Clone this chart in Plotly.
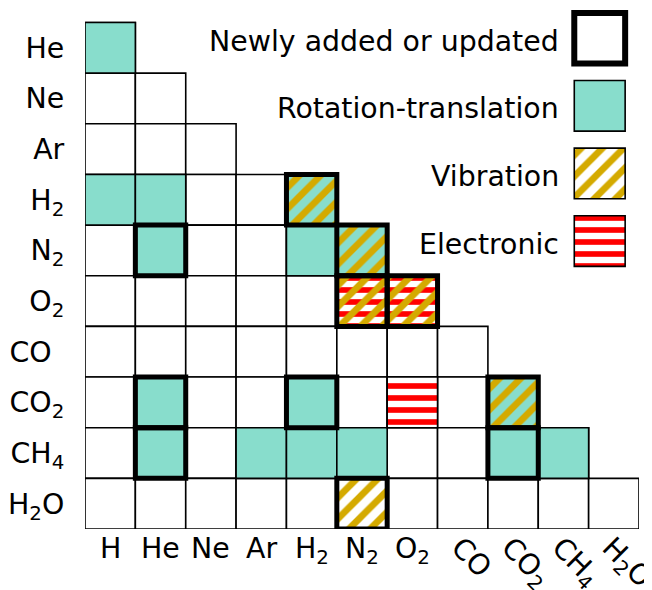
import plotly.graph_objects as go

# ---------------- data ----------------
ROW_SPECIES = ["He", "Ne", "Ar", "H2", "N2", "O2", "CO", "CO2", "CH4", "H2O"]
COL_SPECIES = ["H", "He", "Ne", "Ar", "H2", "N2", "O2", "CO", "CO2", "CH4", "H2O"]
ROW_LENGTHS = [1, 2, 3, 5, 6, 7, 8, 9, 10, 11]   # number of collision partners per row

ROW_TICK_LABELS = ["He", "Ne", "Ar", "H<sub>2</sub>", "N<sub>2</sub>", "O<sub>2</sub>",
                   "CO<sub>\u00a0\u00a0</sub>", "CO<sub>2</sub>", "CH<sub>4</sub>", "H<sub>2</sub>O"]
COL_TICK_LABELS = ["H", "He", "Ne", "Ar", "H<sub>2</sub>", "N<sub>2</sub>", "O<sub>2</sub>",
                   "CO", "CO<sub>2</sub>", "CH<sub>4</sub>", "H<sub>2</sub>O"]
N_FLAT_COL_LABELS = 7   # first labels horizontal, the rest slanted

ROTATION_TRANSLATION = [("He", "H"), ("H2", "H"), ("H2", "He"), ("H2", "H2"),
                        ("N2", "He"), ("N2", "H2"), ("N2", "N2"),
                        ("CO2", "He"), ("CO2", "H2"), ("CO2", "CO2"),
                        ("CH4", "He"), ("CH4", "Ar"), ("CH4", "H2"), ("CH4", "N2"),
                        ("CH4", "CO2"), ("CH4", "CH4")]
VIBRATION = [("H2", "H2"), ("N2", "N2"), ("O2", "N2"), ("O2", "O2"),
             ("CO2", "CO2"), ("H2O", "N2")]
ELECTRONIC = [("O2", "N2"), ("O2", "O2"), ("CO2", "O2")]
NEWLY_ADDED = [("H2", "H2"), ("N2", "He"), ("N2", "N2"), ("O2", "N2"), ("O2", "O2"),
               ("CO2", "He"), ("CO2", "H2"), ("CO2", "CO2"), ("CH4", "He"),
               ("CH4", "CO2"), ("H2O", "N2")]

LEGEND_TEXT = ["Newly added or updated", "Rotation-translation", "Vibration", "Electronic"]

# ---------------- style ----------------
FONT = "DejaVu Sans"
FS = 28.4
TEAL = "#88DDCC"
GOLD = "#D4AA00"
RED = "#FF0000"
THIN = 1.6
THICK = 5
CLEAR = "rgba(0,0,0,0)"

Y_TOP = -0.2865          # headroom above the first row (for the legend)
LEGEND_X = 10.22
LEGEND_Y0 = 0.31
LEGEND_STEP = 1.335
LEGEND_TEXT_X = 9.46

DIAG = dict(shape="/", fgcolor=GOLD, bgcolor=CLEAR, size=15, solidity=0.45, fillmode="replace")
HORIZ = dict(shape="-", fgcolor=RED, bgcolor="white", size=12, solidity=0.47, fillmode="replace")


def cells(pairs):
    xs = [COL_SPECIES.index(c) + 0.5 for r, c in pairs]
    bases = [ROW_SPECIES.index(r) for r, c in pairs]
    return xs, bases


def cell_bar(pairs, **kw):
    xs, bases = cells(pairs)
    n = len(xs)
    return go.Bar(x=xs, y=[1] * n, base=bases, width=[1] * n, orientation="v",
                  showlegend=False, hoverinfo="skip", cliponaxis=False, **kw)


grid_pairs = [(r, COL_SPECIES[j]) for i, r in enumerate(ROW_SPECIES) for j in range(ROW_LENGTHS[i])]

fig = go.Figure()
fig.add_trace(cell_bar(grid_pairs, marker=dict(color="white", line=dict(color="black", width=THIN))))
fig.add_trace(cell_bar(ROTATION_TRANSLATION, marker=dict(color=TEAL, line=dict(color="black", width=THIN))))
fig.add_trace(cell_bar(ELECTRONIC, marker=dict(color="white", pattern=HORIZ, line=dict(color="black", width=THIN))))
fig.add_trace(cell_bar(VIBRATION, marker=dict(color=CLEAR, pattern=DIAG, line=dict(color="black", width=THIN))))
fig.add_trace(cell_bar(NEWLY_ADDED, marker=dict(color=CLEAR, line=dict(color="black", width=THICK))))

# legend swatches
legend_styles = [
    dict(color="white", line=dict(color="black", width=THICK + 1)),
    dict(color=TEAL, line=dict(color="black", width=THIN)),
    dict(color="white", pattern=dict(DIAG, bgcolor="white"), line=dict(color="black", width=THIN)),
    dict(color="white", pattern=HORIZ, line=dict(color="black", width=THIN)),
]
for k, (txt, st) in enumerate(zip(LEGEND_TEXT, legend_styles)):
    yc = LEGEND_Y0 + k * LEGEND_STEP
    fig.add_trace(go.Bar(x=[LEGEND_X], y=[1], base=[yc - 0.5], width=[1.01], marker=st,
                         showlegend=False, hoverinfo="skip", cliponaxis=False))
    fig.add_annotation(x=LEGEND_TEXT_X, y=yc + 0.06, xref="x", yref="y", text=txt,
                       showarrow=False, xanchor="right", yanchor="middle",
                       font=dict(family=FONT, size=FS, color="black"))

# horizontal column labels
for j in range(N_FLAT_COL_LABELS):
    fig.add_annotation(x=j + 0.5, y=0, xref="x", yref="paper", text=COL_TICK_LABELS[j],
                       showarrow=False, xanchor="center", yanchor="top", yshift=-1,
                       font=dict(family=FONT, size=FS, color="black"))

axis_font = dict(family=FONT, size=FS, color="black")
# the page body has an 8px margin, so the figure is 8px smaller than the window
fig.update_layout(
    width=644, height=582,
    margin=dict(l=77, r=13, t=0, b=61),
    paper_bgcolor="white", plot_bgcolor="white",
    barmode="overlay",
    font=axis_font,
    xaxis=dict(range=[0, 11], showgrid=False, zeroline=False, showline=False, automargin=False,
               tickmode="array",
               tickvals=[j + 0.5 for j in range(N_FLAT_COL_LABELS, len(COL_SPECIES))],
               ticktext=COL_TICK_LABELS[N_FLAT_COL_LABELS:],
               tickangle=45, ticks="", ticklabelstandoff=-5, ticklabelshift=-3,
               ticklabeloverflow="allow", tickfont=axis_font, fixedrange=True),
    yaxis=dict(range=[10, Y_TOP], showgrid=False, zeroline=False, showline=False, automargin=False,
               tickmode="array", tickvals=[i + 0.5 for i in range(len(ROW_SPECIES))],
               ticktext=ROW_TICK_LABELS, ticks="outside", ticklen=14, tickcolor=CLEAR,
               tickfont=axis_font, fixedrange=True),
)

fig.write_html("out.html")
